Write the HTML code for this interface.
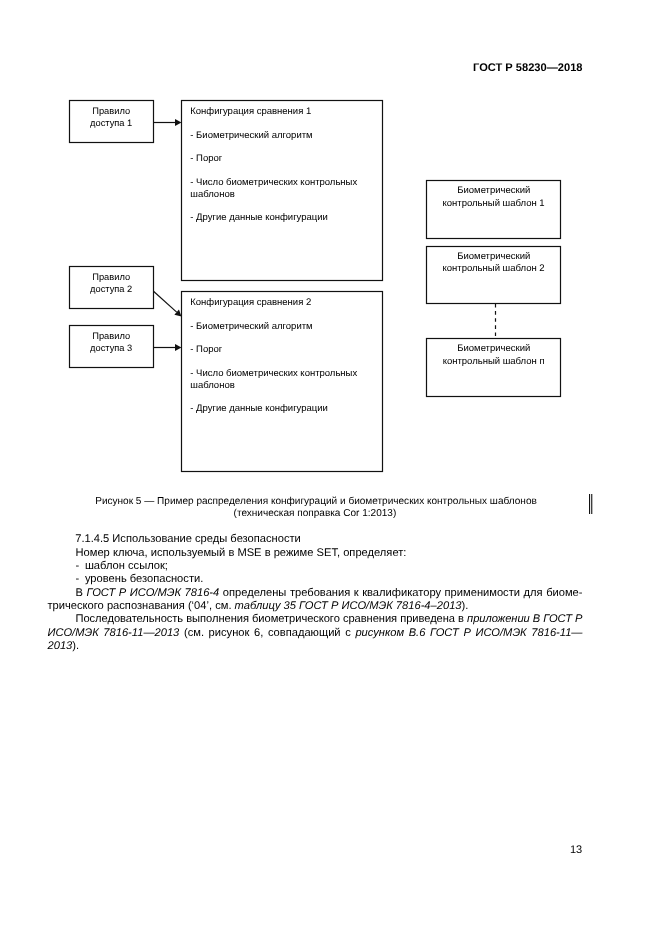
<!DOCTYPE html>
<html><head><meta charset="utf-8"><style>
html,body{margin:0;padding:0;background:#fff;}
body{width:661px;height:935px;position:relative;overflow:hidden;will-change:transform;font-family:"Liberation Sans",sans-serif;color:#000;}
svg{position:absolute;left:0;top:0;}
svg text{font-family:"Liberation Sans",sans-serif;fill:#000;stroke:#000;stroke-width:0.02px;text-rendering:geometricPrecision;}
.l{position:absolute;white-space:nowrap;text-rendering:geometricPrecision;}
</style></head><body>
<svg width="661" height="935" viewBox="0 0 661 935">
<rect x="69.5" y="100.5" width="84" height="42" fill="none" stroke="#111" stroke-width="1.2"/>
<text x="111.2" y="113.8" text-anchor="middle" font-size="9.3">Правило</text>
<text x="111.2" y="125.89999999999999" text-anchor="middle" font-size="9.3">доступа 1</text>
<rect x="69.5" y="266.5" width="84" height="42" fill="none" stroke="#111" stroke-width="1.2"/>
<text x="111.2" y="279.8" text-anchor="middle" font-size="9.3">Правило</text>
<text x="111.2" y="291.90000000000003" text-anchor="middle" font-size="9.3">доступа 2</text>
<rect x="69.5" y="325.5" width="84" height="42" fill="none" stroke="#111" stroke-width="1.2"/>
<text x="111.2" y="338.8" text-anchor="middle" font-size="9.3">Правило</text>
<text x="111.2" y="350.90000000000003" text-anchor="middle" font-size="9.3">доступа 3</text>
<rect x="181.5" y="100.5" width="201" height="180" fill="none" stroke="#111" stroke-width="1.2"/>
<text x="190.3" y="113.9" text-anchor="start" font-size="9.5">Конфигурация сравнения 1</text>
<text x="190.3" y="137.5" text-anchor="start" font-size="9.5">- Биометрический алгоритм</text>
<text x="190.3" y="161.1" text-anchor="start" font-size="9.5">- Порог</text>
<text x="190.3" y="184.7" text-anchor="start" font-size="9.5">- Число биометрических контрольных</text>
<text x="190.3" y="196.5" text-anchor="start" font-size="9.5">шаблонов</text>
<text x="190.3" y="220.1" text-anchor="start" font-size="9.5">- Другие данные конфигурации</text>
<rect x="181.5" y="291.5" width="201" height="180" fill="none" stroke="#111" stroke-width="1.2"/>
<text x="190.3" y="304.9" text-anchor="start" font-size="9.5">Конфигурация сравнения 2</text>
<text x="190.3" y="328.5" text-anchor="start" font-size="9.5">- Биометрический алгоритм</text>
<text x="190.3" y="352.1" text-anchor="start" font-size="9.5">- Порог</text>
<text x="190.3" y="375.7" text-anchor="start" font-size="9.5">- Число биометрических контрольных</text>
<text x="190.3" y="387.5" text-anchor="start" font-size="9.5">шаблонов</text>
<text x="190.3" y="411.1" text-anchor="start" font-size="9.5">- Другие данные конфигурации</text>
<rect x="426.5" y="180.5" width="134" height="58" fill="none" stroke="#111" stroke-width="1.2"/>
<text x="493.8" y="193.4" text-anchor="middle" font-size="9.5">Биометрический</text>
<text x="493.6" y="205.6" text-anchor="middle" font-size="9.5">контрольный шаблон 1</text>
<rect x="426.5" y="246.5" width="134" height="57" fill="none" stroke="#111" stroke-width="1.2"/>
<text x="493.8" y="259.2" text-anchor="middle" font-size="9.5">Биометрический</text>
<text x="493.6" y="271.4" text-anchor="middle" font-size="9.5">контрольный шаблон 2</text>
<rect x="426.5" y="338.5" width="134" height="58" fill="none" stroke="#111" stroke-width="1.2"/>
<text x="493.8" y="351.4" text-anchor="middle" font-size="9.5">Биометрический</text>
<text x="493.6" y="363.59999999999997" text-anchor="middle" font-size="9.5">контрольный шаблон п</text>
<line x1="495.5" y1="304" x2="495.5" y2="338" stroke="#111" stroke-width="1.2" stroke-dasharray="3.6 3.5"/>
<line x1="153.5" y1="122.5" x2="175.0" y2="122.5" stroke="#111" stroke-width="1.2"/><polygon points="181.5,122.5 175.0,125.9 175.0,119.1" fill="#111"/>
<line x1="153.5" y1="291.3" x2="176.6685880493934" y2="312.1517292444541" stroke="#111" stroke-width="1.2"/><polygon points="181.5,316.5 174.39410796187707,314.67892934169447 178.94306813690974,309.6245291472137" fill="#111"/>
<line x1="153.5" y1="347.5" x2="175.0" y2="347.5" stroke="#111" stroke-width="1.2"/><polygon points="181.5,347.5 175.0,350.9 175.0,344.1" fill="#111"/>
<rect x="589" y="494" width="1.1" height="20" fill="#111"/><rect x="591.2" y="494" width="1.1" height="20" fill="#111"/>
</svg>
<div class="l" style="left:473.0px;top:61.85px;font-size:11.1px;line-height:13.2px;font-weight:bold;">ГОСТ Р 58230—2018</div>
<div class="l" style="left:95.2px;top:495.02px;font-size:10.05px;line-height:13.2px;">Рисунок 5 — Пример распределения конфигураций и биометрических контрольных шаблонов</div>
<div class="l" style="left:233.6px;top:507.22px;font-size:10.05px;line-height:13.2px;">(техническая поправка Cor 1:2013)</div>
<div class="l" style="left:75.2px;top:533.04px;font-size:11.15px;line-height:13.2px;">7.1.4.5 Использование среды безопасности</div>
<div class="l" style="left:75.5px;top:547.04px;font-size:11.15px;line-height:13.2px;">Номер ключа, используемый в MSE в режиме SET, определяет:</div>
<div class="l" style="left:75.5px;top:560.04px;font-size:11.15px;line-height:13.2px;">-<span style="margin-left:5.7px">шаблон ссылок;</span></div>
<div class="l" style="left:75.5px;top:573.04px;font-size:11.15px;line-height:13.2px;">-<span style="margin-left:5.7px">уровень безопасности.</span></div>
<div class="l" style="left:75.5px;top:587.04px;font-size:11.15px;line-height:13.2px;width:507px;text-align:justify;text-align-last:justify;">В <i>ГОСТ Р ИСО/МЭК 7816-4</i> определены требования к квалификатору применимости для биоме-</div>
<div class="l" style="left:47.5px;top:600.04px;font-size:11.15px;line-height:13.2px;">трического распознавания (‘04’, см. <i>таблицу 35 ГОСТ Р ИСО/МЭК 7816-4–2013</i>).</div>
<div class="l" style="left:75.5px;top:613.04px;font-size:11.15px;line-height:13.2px;width:507px;text-align:justify;text-align-last:justify;"><span style="letter-spacing:-0.055px">Последовательность выполнения биометрического сравнения приведена в <i>приложении В ГОСТ Р</i></span></div>
<div class="l" style="left:47.5px;top:627.04px;font-size:11.15px;line-height:13.2px;width:535px;text-align:justify;text-align-last:justify;"><i>ИСО/МЭК 7816-11—2013</i> (см. рисунок 6, совпадающий с <i>рисунком В.6 ГОСТ Р ИСО/МЭК 7816-11—</i></div>
<div class="l" style="left:47.5px;top:640.04px;font-size:11.15px;line-height:13.2px;"><i>2013</i>).</div>
<div class="l" style="left:570.0px;top:843.59px;font-size:11px;line-height:13.2px;">13</div>
</body></html>
